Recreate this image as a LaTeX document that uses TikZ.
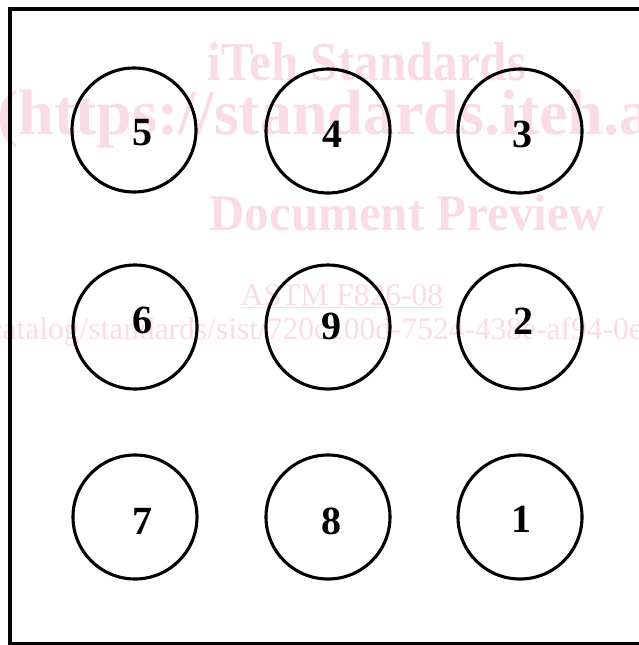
\documentclass[tikz,border=0pt]{standalone}
\usepackage{fontspec}
\setmainfont{Liberation Serif}
\definecolor{wm}{RGB}{250,220,230}
\tikzset{
  hole/.style={circle, draw, line width=3.1pt, minimum size=124pt, inner sep=0pt},
  num/.style={font=\fontsize{40}{40}\selectfont\bfseries, inner sep=0pt},
  wmbig/.style={text=wm, font=\fontsize{49}{49}\selectfont\bfseries, inner sep=0pt},
  wmsmall/.style={text=wm, font=\fontsize{31.5}{31.5}\selectfont, inner sep=0pt},
  frame/.style={line width=4.5pt}
}
\begin{document}
\begin{tikzpicture}[x=1pt,y=-1pt]
\useasboundingbox (0,0) rectangle (639,645);
\clip (0,0) rectangle (639,645);
% watermark
\node[wmbig, anchor=base] (w1) at (367,80) {\scalebox{1}[1.12]{iTeh Standards}};
\node[wmbig, font=\fontsize{64}{64}\selectfont\bfseries, anchor=base west] (w2) at (-3,134) {(https://standards.iteh.ai)};
\node[wmbig, anchor=base] (w3) at (407,230) {\scalebox{1}[1.05]{Document Preview}};
\node[wmsmall, anchor=base] (w4) at (342,305) {\underline{ASTM F826-08}};
\node[wmsmall, anchor=base east] (w5) at (643,339) {https://standards.iteh.ai/catalog/standards/sist/720c100d-7524-438e-af94-0e};
% frame
\draw[frame] (10,9) rectangle (700,644);
% circles
\node[hole] (c5) at (134,130) {};
\node[hole] (c4) at (328,131) {};
\node[hole] (c3) at (520,131) {};
\node[hole] (c6) at (135,327) {};
\node[hole] (c9) at (328,327) {};
\node[hole] (c2) at (520,327) {};
\node[hole] (c7) at (135,517) {};
\node[hole] (c8) at (328,517) {};
\node[hole] (c1) at (520,517) {};
% numbers
\node[num] (n5) at (142,133) {5};
\node[num] (n4) at (332,134) {4};
\node[num] (n3) at (522,134) {3};
\node[num] (n6) at (142,320) {6};
\node[num] (n9) at (331,326) {9};
\node[num] (n2) at (523,321) {2};
\node[num] (n7) at (142,521) {7};
\node[num] (n8) at (331,521) {8};
\node[num] (n1) at (521,519) {1};
\end{tikzpicture}
\end{document}
